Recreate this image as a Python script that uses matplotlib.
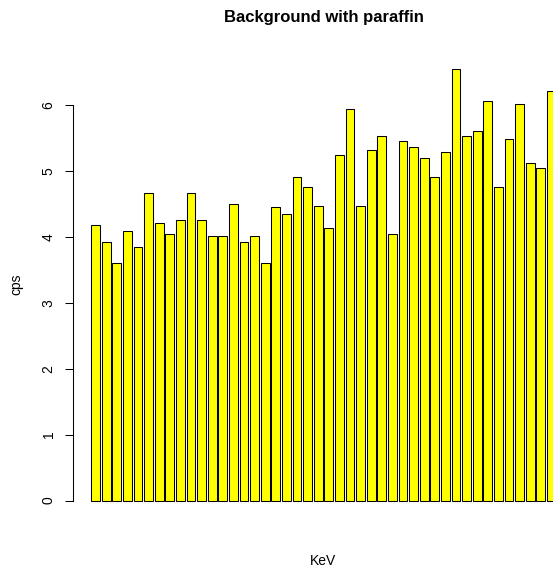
import numpy as np
import matplotlib
matplotlib.use("Agg")
import matplotlib.pyplot as plt

plt.rcParams["font.family"]=["Liberation Sans", "DejaVu Sans"]

# cps per channel
cps=[4.18, 3.92, 3.60, 4.09, 3.85, 4.67, 4.21, 4.05, 4.26, 4.67,
	4.26, 4.01, 4.01, 4.50, 3.92, 4.01, 3.60, 4.46, 4.34, 4.91,
	4.75, 4.47, 4.13, 5.24, 5.94, 4.47, 5.32, 5.53, 4.05, 5.45,
	5.37, 5.20, 4.91, 5.28, 6.55, 5.53, 5.61, 6.06, 4.75, 5.49,
	6.02, 5.12, 5.04, 6.22]
yticks=[0, 1, 2, 3, 4, 5, 6]
title="Background with paraffin"
xlabel="KeV"
ylabel="cps"

def main():
	W, H=553, 572
	fig=plt.figure(figsize=(W/100, H/100), dpi=100)
	# plot region in pixels (R style barplot)
	left, right, top, bottom=72.7, 574.3, 51.5, 517.8
	ax=fig.add_axes([left/W, 1-bottom/H, (right-left)/W, (bottom-top)/H])

	n=len(cps)
	x=0.2+1.2*np.arange(n)
	ax.bar(x, cps, width=1, align="edge", color="#FFFF00", edgecolor="black", linewidth=0.75)

	span=1.2*n-0.2
	ax.set_xlim(0.2-0.04*span, 1.2*n+0.04*span)
	ymax=max(cps)
	ax.set_ylim(-0.04*ymax, ymax*1.04)

	for s in ["top", "right", "bottom"]:
		ax.spines[s].set_visible(False)
	ax.spines["left"].set_bounds(0, 6)
	ax.spines["left"].set_linewidth(0.75)
	ax.set_xticks([])
	ax.set_yticks(yticks)
	ax.tick_params(axis="y", length=5.8, width=0.75, pad=6.5, labelsize=10)
	for lab in ax.get_yticklabels():
		lab.set_rotation(90)
		lab.set_va("center")

	fig.text(323.5/W, 1-22/H, title, ha="center", va="baseline", fontsize=12, fontweight="bold")
	fig.text(323.5/W, 1-565/H, xlabel, ha="center", va="baseline", fontsize=10)
	fig.text(16.5/W, 1-284.7/H, ylabel, ha="center", va="center", rotation=90, fontsize=10)

	plt.savefig("out.png", dpi=100)
	plt.close(fig)

if __name__=="__main__":
	main()
